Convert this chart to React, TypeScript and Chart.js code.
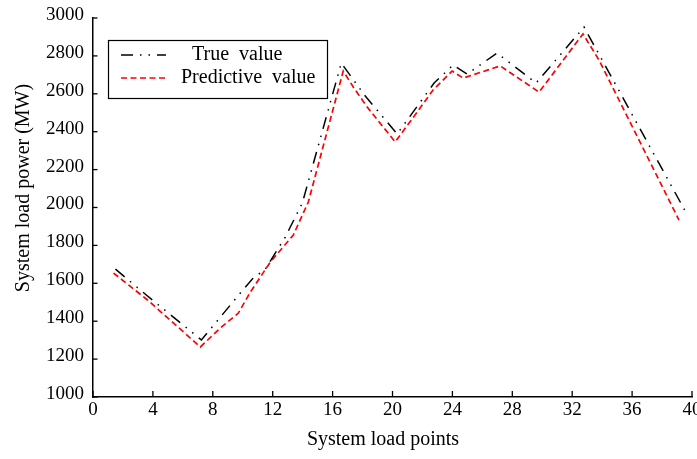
import React, { useEffect, useRef } from "react";
import { Chart, registerables } from "chart.js";

Chart.register(...registerables);

// ---- Data ----
const trueX = [1.5, 3.64, 7.24, 9.84, 10.64, 11.51, 12.84, 13.98, 16.58, 18.18, 20.31, 22.78, 24.05, 24.98, 26.98, 29.59, 32.79, 39.73];
const trueY = [1675, 1533, 1301, 1549, 1623, 1675, 1844, 2024, 2762, 2588, 2388, 2657, 2752, 2704, 2815, 2657, 2952, 1955];

const predX = [1.37, 3.64, 7.17, 8.57, 9.71, 10.51, 11.84, 13.38, 14.38, 16.71, 17.38, 18.31, 20.18, 21.65, 22.71, 23.98, 24.72, 27.19, 29.79, 32.72, 33.79, 39.13];
const predY = [1654, 1512, 1264, 1369, 1443, 1554, 1712, 1855, 2029, 2720, 2636, 2530, 2346, 2504, 2620, 2720, 2683, 2747, 2609, 2916, 2778, 1934];

const seriesLabels = ["True  value", "Predictive  value"];
const xTickValues = [0, 4, 8, 12, 16, 20, 24, 28, 32, 36, 40];
const yTickValues = [1000, 1200, 1400, 1600, 1800, 2000, 2200, 2400, 2600, 2800, 3000];
const xTitle = "System load points";
const yTitle = "System load power (MW)";

const FONT = '"Liberation Serif", "Times New Roman", serif';
const BLACK_DASH = [12, 7, 1.5, 7, 1.5, 7];
const RED_DASH = [6, 3.5];

const toPoints = (xs: number[], ys: number[]) => xs.map((x, i) => ({ x, y: ys[i] }));

const inwardTicks = {
  id: "inwardTicks",
  afterDraw(chart: any) {
    const { ctx, chartArea, scales } = chart;
    ctx.save();
    ctx.strokeStyle = "#000";
    ctx.lineWidth = 1.3;
    scales.x.ticks.forEach((t: any) => {
      const px = scales.x.getPixelForValue(t.value);
      ctx.beginPath();
      ctx.moveTo(px, chartArea.bottom);
      ctx.lineTo(px, chartArea.bottom - 6);
      ctx.stroke();
    });
    scales.y.ticks.forEach((t: any) => {
      const py = scales.y.getPixelForValue(t.value);
      ctx.beginPath();
      ctx.moveTo(chartArea.left, py);
      ctx.lineTo(chartArea.left + 4.5, py);
      ctx.stroke();
    });
    ctx.restore();
  },
};

const titlesAndLegend = {
  id: "titlesAndLegend",
  afterDraw(chart: any) {
    const { ctx } = chart;
    ctx.save();
    ctx.fillStyle = "#000";
    ctx.font = `20px ${FONT}`;
    // x title
    ctx.textAlign = "center";
    ctx.textBaseline = "middle";
    ctx.fillText(xTitle, 383, 440);
    // y title
    ctx.save();
    ctx.translate(24, 188);
    ctx.rotate(-Math.PI / 2);
    ctx.fillText(yTitle, 0, 0);
    ctx.restore();

    // legend box
    ctx.lineWidth = 1.2;
    ctx.strokeStyle = "#000";
    ctx.strokeRect(108.5, 40.5, 219, 58);
    const rows = [55, 78];
    const textX = [192, 181];
    chart.data.datasets.forEach((ds: any, i: number) => {
      const y = rows[i];
      ctx.save();
      ctx.strokeStyle = ds.borderColor;
      ctx.lineWidth = ds.borderWidth;
      ctx.setLineDash(ds.borderDash);
      ctx.beginPath();
      ctx.moveTo(121, y);
      ctx.lineTo(166, y);
      ctx.stroke();
      ctx.restore();
      ctx.textAlign = "left";
      ctx.textBaseline = "middle";
      ctx.fillStyle = "#000";
      ctx.fillText(ds.label, textX[i], y);
    });
    ctx.restore();
  },
};

export default function App() {
  const canvasRef = useRef<HTMLCanvasElement | null>(null);

  useEffect(() => {
    document.body.style.margin = "0";
    const canvas = canvasRef.current;
    if (!canvas) return;
    const chart = new Chart(canvas, {
      type: "line",
      data: {
        datasets: [
          {
            label: seriesLabels[0],
            data: toPoints(trueX, trueY),
            borderColor: "#000000",
            borderWidth: 1.5,
            borderDash: BLACK_DASH,
            pointRadius: 0,
            tension: 0,
            fill: false,
          },
          {
            label: seriesLabels[1],
            data: toPoints(predX, predY),
            borderColor: "#ff0000",
            borderWidth: 1.7,
            borderDash: RED_DASH,
            pointRadius: 0,
            tension: 0,
            fill: false,
          },
        ],
      },
      options: {
        animation: false,
        responsive: false,
        devicePixelRatio: 1,
        layout: { padding: { left: 0, right: 5, top: 18, bottom: 0 } },
        plugins: {
          legend: { display: false },
          tooltip: { enabled: false },
          title: { display: false },
        },
        scales: {
          x: {
            type: "linear",
            min: 0,
            max: 40,
            afterBuildTicks: (s: any) => {
              s.ticks = xTickValues.map((v) => ({ value: v }));
            },
            afterFit: (s: any) => {
              s.height = 62;
              s.paddingLeft = 0;
              s.paddingRight = 0;
            },
            grid: { display: false, drawTicks: false },
            border: { display: true, color: "#000", width: 1.5 },
            ticks: {
              color: "#000",
              font: { family: FONT, size: 19 },
              padding: 2,
              maxRotation: 0,
              autoSkip: false,
              callback: (v: any) => String(v),
            },
          },
          y: {
            type: "linear",
            min: 1000,
            max: 3000,
            afterBuildTicks: (s: any) => {
              s.ticks = yTickValues.map((v) => ({ value: v }));
            },
            afterFit: (s: any) => {
              s.width = 93;
              s.paddingTop = 0;
              s.paddingBottom = 0;
            },
            grid: { display: false, drawTicks: false },
            border: { display: true, color: "#000", width: 1.5 },
            ticks: {
              color: "#000",
              font: { family: FONT, size: 19 },
              padding: 9,
              labelOffset: -3,
              autoSkip: false,
              callback: (v: any) => String(v),
            },
          },
        },
      },
      plugins: [inwardTicks, titlesAndLegend],
    });
    return () => chart.destroy();
  }, []);

  return <canvas ref={canvasRef} width={697} height={459} style={{ display: "block" }} />;
}
